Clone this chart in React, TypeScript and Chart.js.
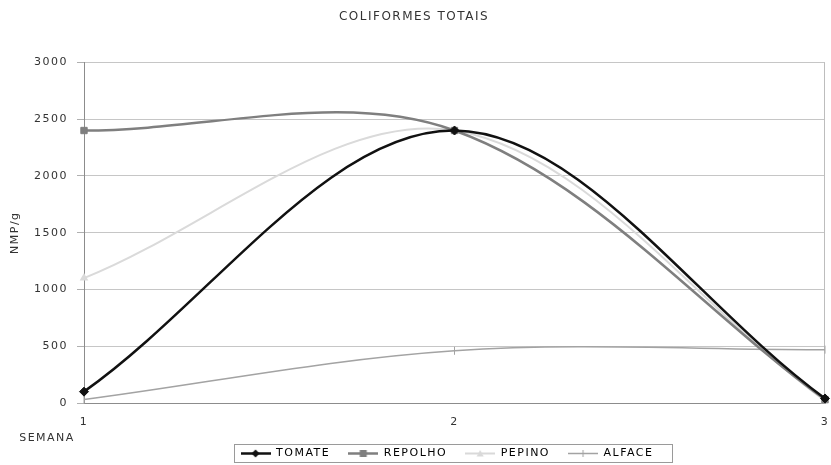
import React, { useEffect, useRef } from 'react';
import { Chart, registerables } from 'chart.js';

Chart.register(...registerables);

// Semanas de coleta
const weeks = ['1', '2', '3'];

// NMP/g por hortaliça
const tomate = [100, 2400, 40];
const repolho = [2400, 2400, 30];
const pepino = [1100, 2400, 20];
const alface = [30, 460, 470];

const Y_MAX = 3000;
const Y_STEP = 500;

const FONT = 'DejaVu Sans';
const TEXT = '#333333';

type Marker = 'diamond' | 'square' | 'triangle' | 'tick';

// Small line-with-marker swatch used as the legend symbol
function legendIcon(color: string, width: number, marker: Marker): HTMLCanvasElement {
  const c = document.createElement('canvas');
  c.width = 30;
  c.height = 11;
  const ctx = c.getContext('2d')!;
  ctx.strokeStyle = color;
  ctx.fillStyle = color;
  ctx.lineWidth = width;
  ctx.beginPath();
  ctx.moveTo(0, 5.5);
  ctx.lineTo(30, 5.5);
  ctx.stroke();
  ctx.beginPath();
  if (marker === 'diamond') {
    ctx.moveTo(15, 1.5);
    ctx.lineTo(19, 5.5);
    ctx.lineTo(15, 9.5);
    ctx.lineTo(11, 5.5);
    ctx.closePath();
    ctx.fill();
  } else if (marker === 'square') {
    ctx.fillRect(11.5, 2, 7, 7);
  } else if (marker === 'triangle') {
    ctx.moveTo(15, 2);
    ctx.lineTo(18.5, 8.5);
    ctx.lineTo(11.5, 8.5);
    ctx.closePath();
    ctx.fill();
  } else {
    ctx.lineWidth = 1;
    ctx.moveTo(15, 2);
    ctx.lineTo(15, 9);
    ctx.stroke();
  }
  return c;
}

const spacingPlugin = {
  id: 'letterSpacing',
  beforeUpdate(chart: any) {
    chart.ctx.letterSpacing = '1.5px';
  },
  beforeRender(chart: any) {
    chart.ctx.letterSpacing = '1.5px';
  },
  // the legend sits a little right of centre
  afterLayout(chart: any) {
    if (chart.legend) chart.legend.left += 66;
  },
};

const framePlugin = {
  id: 'frame',
  beforeDatasetsDraw(chart: any) {
    const { ctx, chartArea } = chart;
    ctx.save();
    ctx.strokeStyle = '#bdbdbd';
    ctx.lineWidth = 1;
    ctx.beginPath();
    ctx.moveTo(Math.round(chartArea.right) - 0.5, chartArea.top);
    ctx.lineTo(Math.round(chartArea.right) - 0.5, chartArea.bottom);
    ctx.stroke();
    ctx.restore();
  },
  afterDraw(chart: any) {
    const { ctx, chartArea, legend } = chart;
    ctx.save();
    // axis caption under the first category
    ctx.letterSpacing = '1.5px';
    ctx.font = `11px "${FONT}"`;
    ctx.fillStyle = TEXT;
    ctx.textAlign = 'center';
    ctx.textBaseline = 'middle';
    ctx.fillText('SEMANA', chartArea.left - 37, chartArea.bottom + 35);

    // legend frame
    const boxes = legend.legendHitBoxes;
    if (boxes && boxes.length) {
      const left = Math.min(...boxes.map((b: any) => b.left)) - 7;
      const right = Math.max(...boxes.map((b: any) => b.left + b.width)) + 18;
      const top = Math.min(...boxes.map((b: any) => b.top)) - 4;
      const bottom = Math.max(...boxes.map((b: any) => b.top + b.height)) + 3;
      ctx.strokeStyle = '#9a9a9a';
      ctx.lineWidth = 1;
      ctx.strokeRect(Math.round(left) + 0.5, Math.round(top) + 0.5, Math.round(right - left), Math.round(bottom - top));
    }
    ctx.restore();
  },
};

export default function App() {
  const ref = useRef<HTMLCanvasElement>(null);

  useEffect(() => {
    const canvas = ref.current;
    if (!canvas) return;

    const icons = [
      legendIcon('#111111', 2.5, 'diamond'),
      legendIcon('#7f7f7f', 2.5, 'square'),
      legendIcon('#d9d9d9', 2, 'triangle'),
      legendIcon('#a3a3a3', 1.5, 'tick'),
    ];

    const smooth = 0.34;

    const chart = new Chart(canvas, {
      type: 'line',
      data: {
        labels: weeks,
        datasets: [
          {
            label: 'TOMATE',
            data: tomate,
            borderColor: '#111111',
            backgroundColor: '#111111',
            borderWidth: 2.5,
            pointStyle: 'rectRot',
            pointRadius: 4.5,
            pointBorderWidth: 1,
            tension: smooth,
            clip: false,
            order: 1,
          },
          {
            label: 'REPOLHO',
            data: repolho,
            borderColor: '#7f7f7f',
            backgroundColor: '#7f7f7f',
            borderWidth: 2.5,
            pointStyle: 'rect',
            pointRadius: 4.5,
            pointBorderWidth: 1,
            tension: smooth,
            clip: false,
            order: 2,
          },
          {
            label: 'PEPINO',
            data: pepino,
            borderColor: '#dadada',
            backgroundColor: '#dadada',
            borderWidth: 2,
            pointStyle: 'triangle',
            pointRadius: 3,
            tension: smooth,
            clip: false,
            order: 3,
          },
          {
            label: 'ALFACE',
            data: alface,
            borderColor: '#a3a3a3',
            backgroundColor: '#a3a3a3',
            borderWidth: 1.5,
            pointStyle: 'line',
            pointRotation: 90,
            pointRadius: 4,
            pointBorderWidth: 1,
            tension: smooth,
            clip: false,
            order: 4,
          },
        ],
      },
      options: {
        responsive: false,
        animation: false,
        devicePixelRatio: 1,
        layout: { padding: { left: 0, right: 3, top: 0, bottom: -4 } },
        plugins: {
          title: {
            display: true,
            text: 'COLIFORMES TOTAIS',
            color: TEXT,
            font: { family: FONT, size: 12, weight: 'normal' },
            padding: { top: 10, bottom: 38 },
          },
          legend: {
            position: 'bottom',
            labels: {
              color: TEXT,
              font: { family: FONT, size: 11 },
              usePointStyle: true,
              pointStyleWidth: 30,
              padding: 18,
              generateLabels: (ch: any) =>
                ch.data.datasets.map((ds: any, i: number) => ({
                  text: ds.label,
                  pointStyle: icons[i],
                  fillStyle: ds.borderColor,
                  strokeStyle: ds.borderColor,
                  lineWidth: 0,
                  hidden: false,
                  datasetIndex: i,
                })),
            },
          },
          tooltip: { enabled: false },
        },
        scales: {
          x: {
            type: 'category',
            offset: false,
            grid: { display: false, drawTicks: false },
            border: { display: true, color: '#8c8c8c', width: 1 },
            ticks: { color: TEXT, font: { family: FONT, size: 11 }, padding: 13, maxRotation: 0 },
            afterFit: (scale: any) => {
              scale.paddingLeft = 0;
              scale.paddingRight = 0;
              scale.height = 27;
            },
          },
          y: {
            min: 0,
            max: Y_MAX,
            ticks: {
              stepSize: Y_STEP,
              color: TEXT,
              font: { family: FONT, size: 11 },
              padding: 9,
              callback: (v: any) => String(v),
            },
            grid: { color: '#c6c6c6', tickColor: '#b0b0b0', tickLength: 7 },
            border: { display: true, color: '#8c8c8c', width: 1 },
            title: {
              display: true,
              text: 'NMP/g',
              color: TEXT,
              font: { family: FONT, size: 11 },
              padding: { top: 9, bottom: 0 },
            },
            afterFit: (scale: any) => {
              scale.width = 84;
            },
          },
        },
      },
      plugins: [spacingPlugin, framePlugin],
    } as any);

    return () => chart.destroy();
  }, []);

  return (
    <div style={{ position: 'fixed', left: 0, top: 0, width: 831, height: 465, background: '#ffffff' }}>
      <canvas ref={ref} width={831} height={465} style={{ display: 'block' }} />
    </div>
  );
}
